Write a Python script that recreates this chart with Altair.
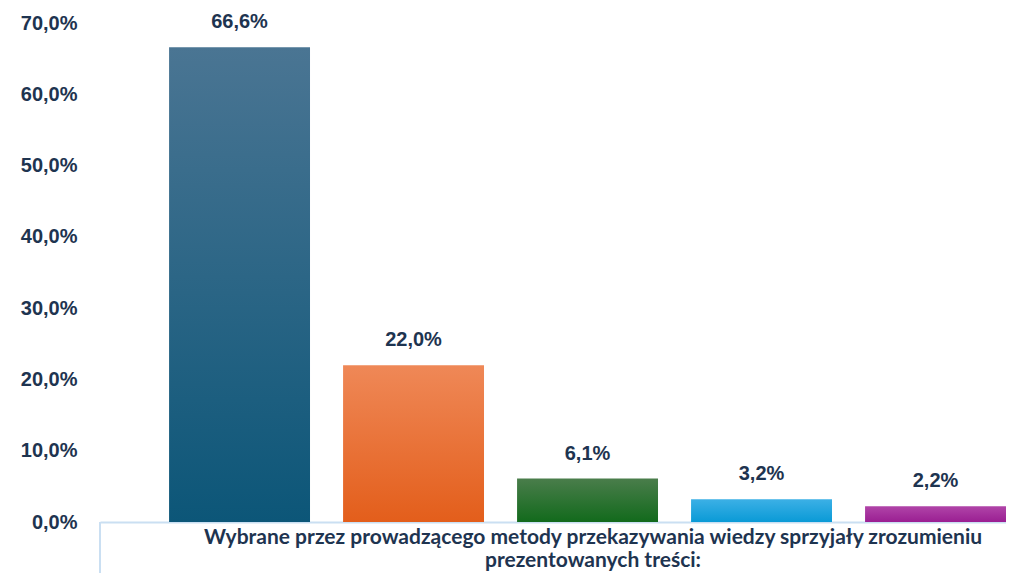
import altair as alt
import pandas as pd

# ---- data ----
categories = ["Zdecydowanie tak", "Raczej tak", "Trudno powiedzieć", "Raczej nie", "Zdecydowanie nie"]
values = [66.6, 22.0, 6.1, 3.2, 2.2]
top_colors = ["#4a7593", "#ef8857", "#4a7d4b", "#3cb0e6", "#b044a8"]
bottom_colors = ["#0c5678", "#e35e1b", "#126a1c", "#0a9ad6", "#9a1f92"]
y_ticks = [0, 10, 20, 30, 40, 50, 60, 70]
category_label = [
    "Wybrane przez prowadzącego metody przekazywania wiedzy sprzyjały zrozumieniu",
    "prezentowanych treści:",
]

TEXT = "#1e3450"
LINE = "#cadff2"
W, H = 906, 499

df = pd.DataFrame({"cat": categories, "v": values})

x_enc = alt.X(
    "cat:N",
    sort=categories,
    scale=alt.Scale(paddingInner=0.19, paddingOuter=0.1985, align=1),
    axis=alt.Axis(labels=False, ticks=False, title=None, domainColor=LINE, domainWidth=2),
)
y_enc = alt.Y(
    "v:Q",
    scale=alt.Scale(domain=[0, 70], nice=False),
    axis=alt.Axis(
        values=y_ticks,
        labelExpr="replace(format(datum.value, '.1f'), '.', ',') + '%'",
        labelFont="Liberation Sans",
        labelFontSize=20,
        labelFontWeight="bold",
        labelColor=TEXT,
        labelPadding=23,
        domain=False,
        ticks=False,
        grid=False,
        title=None,
    ),
)

layers = []
for c, t, b in zip(categories, top_colors, bottom_colors):
    grad = alt.Gradient(
        gradient="linear",
        stops=[alt.GradientStop(color=t, offset=0), alt.GradientStop(color=b, offset=1)],
        x1=0, x2=0, y1=0, y2=1,
    )
    layers.append(
        alt.Chart(df)
        .transform_filter(alt.datum.cat == c)
        .mark_bar(color=grad)
        .encode(x=x_enc, y=y_enc)
    )

labels = (
    alt.Chart(df)
    .transform_calculate(label="replace(format(datum.v, '.1f'), '.', ',') + '%'")
    .mark_text(dy=-25, font="Liberation Sans", fontSize=20, fontWeight="bold", color=TEXT, baseline="middle")
    .encode(x=x_enc, y=y_enc, text="label:N")
)

one = pd.DataFrame({"k": [0]})
vline = alt.Chart(one).mark_rule(color=LINE, strokeWidth=2).encode(
    x=alt.value(0), y=alt.value(H), y2=alt.value(H + 80)
)
cat_text = alt.Chart(one).mark_text(
    font="Lato", fontSize=21, fontWeight="bold", color=TEXT, baseline="top", align="center", lineHeight=23
).encode(x=alt.value(493), y=alt.value(H + 5), text=alt.value(category_label))

chart = (
    alt.layer(*layers, labels, vline, cat_text)
    .properties(
        width=W,
        height=H,
        autosize=alt.AutoSizeParams(type="none"),
        padding={"left": 92, "top": 15, "right": 0, "bottom": 51},
    )
    .configure_view(stroke=None)
)

chart.save("out.html", embed_options={"renderer": "svg", "actions": False})
